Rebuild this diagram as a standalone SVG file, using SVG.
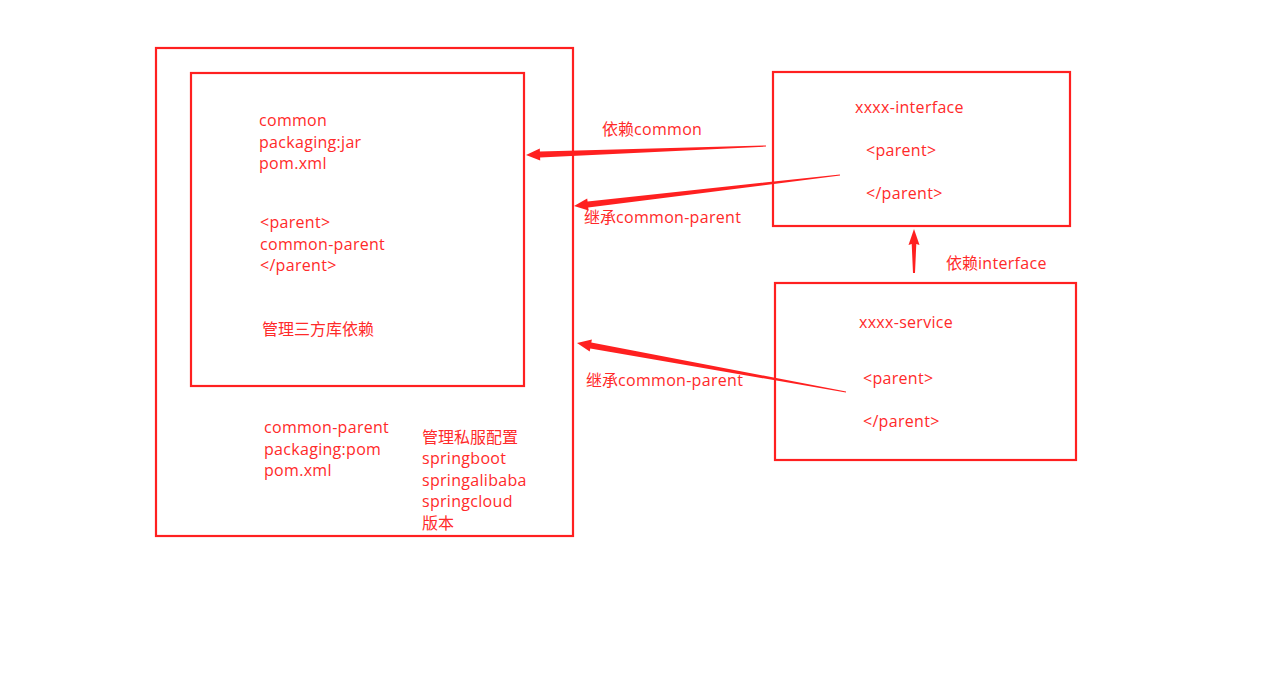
<svg xmlns="http://www.w3.org/2000/svg" width="1280" height="675" viewBox="0 0 1280 675">
<style>
.box{fill:none;stroke:#ff2020;stroke-width:2.2}
.t{font-family:"Open Sans","Noto Sans CJK SC",sans-serif;font-size:16px;letter-spacing:0.3px;fill:#ff2a2a}
.c{font-family:"Noto Sans CJK SC",sans-serif;font-size:16px;letter-spacing:0}
.arr{fill:#ff2020;stroke:none}
</style>
<rect width="1280" height="675" fill="#ffffff"/>
<g id="common-parent">
<rect class="box" x="156" y="48" width="417" height="488"/>
<text class="t" x="264" y="433">common-parent</text>
<text class="t" x="264" y="455">packaging:pom</text>
<text class="t" x="264" y="476">pom.xml</text>
<text class="t c" x="422" y="443">管理私服配置</text>
<text class="t" x="422" y="464">springboot</text>
<text class="t" x="422" y="486">springalibaba</text>
<text class="t" x="422" y="507">springcloud</text>
<text class="t c" x="422" y="529">版本</text>
</g>
<g id="common">
<rect class="box" x="191" y="73" width="333" height="313"/>
<text class="t" x="259" y="126">common</text>
<text class="t" x="259" y="148">packaging:jar</text>
<text class="t" x="259" y="169">pom.xml</text>
<text class="t" x="260" y="228">&lt;parent&gt;</text>
<text class="t" x="260" y="250">common-parent</text>
<text class="t" x="260" y="271">&lt;/parent&gt;</text>
<text class="t c" x="262" y="335">管理三方库依赖</text>
</g>
<g id="xxxx-interface">
<rect class="box" x="773" y="72" width="297" height="154"/>
<text class="t" x="855" y="113">xxxx-interface</text>
<text class="t" x="866" y="156">&lt;parent&gt;</text>
<text class="t" x="866" y="199">&lt;/parent&gt;</text>
</g>
<g id="xxxx-service">
<rect class="box" x="775" y="283" width="301" height="177"/>
<text class="t" x="859" y="328">xxxx-service</text>
<text class="t" x="863" y="384">&lt;parent&gt;</text>
<text class="t" x="863" y="427">&lt;/parent&gt;</text>
</g>
<g id="connectors">
<polygon class="arr" points="526,155 540.2,160.5 540.1,157.5 766,146.6 766,145.4 539.9,151.5 539.8,148.5"/>
<polygon class="arr" points="574,206 588.6,210.4 588.2,207.4 840.1,175.6 839.9,174.4 587.6,201.4 587.2,198.4"/>
<polygon class="arr" points="577,343 589.7,351.4 590.3,348.5 845.9,392.6 846.1,391.4 591.3,342.5 591.9,339.6"/>
<polygon class="arr" points="914,229 919.5,245 916.3,244 915,273 913,273 911.7,244 908.5,245"/>
<text class="t" x="602" y="135"><tspan class="c">依赖</tspan>common</text>
<text class="t" x="584" y="223"><tspan class="c">继承</tspan>common-parent</text>
<text class="t" x="586" y="386"><tspan class="c">继承</tspan>common-parent</text>
<text class="t" x="946" y="269"><tspan class="c">依赖</tspan>interface</text>
</g>
</svg>
